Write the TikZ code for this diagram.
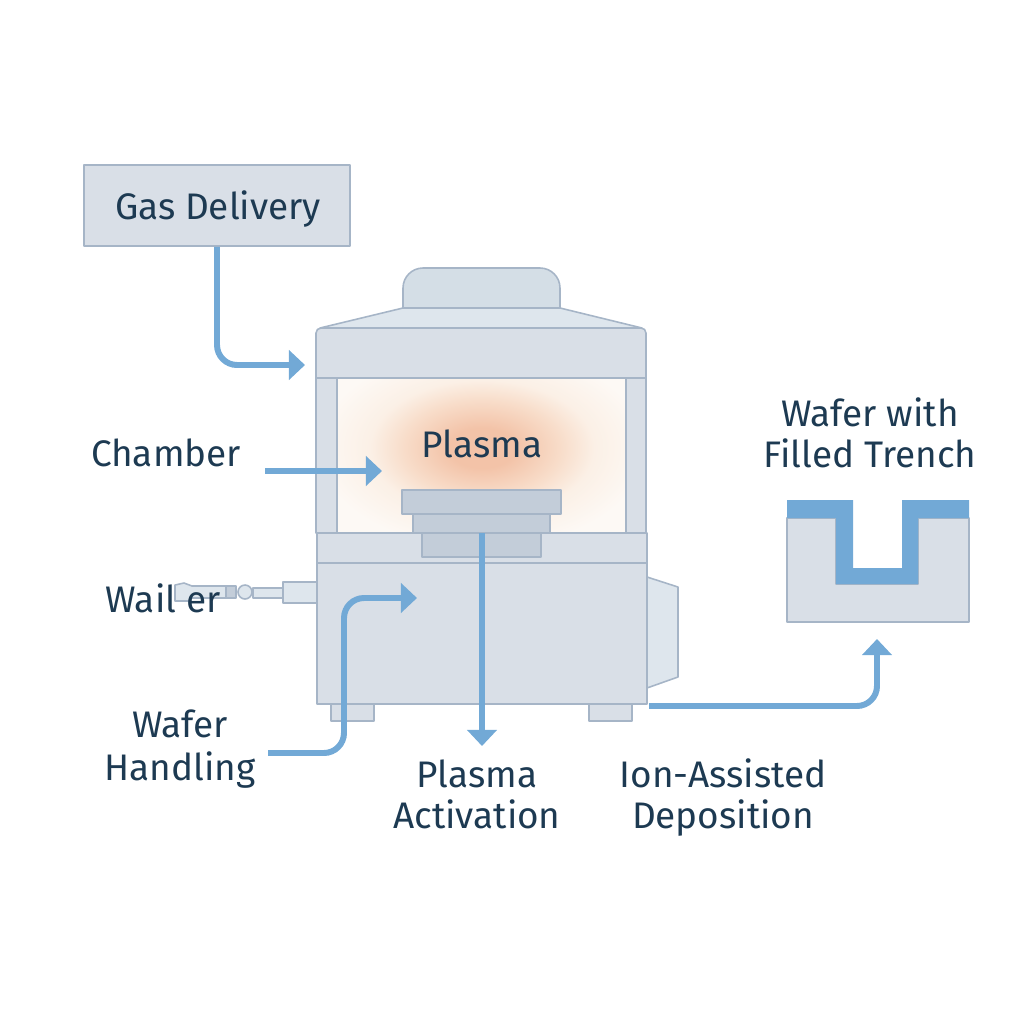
\documentclass[tikz,border=0pt]{standalone}
\usepackage{fontspec}
\setmainfont{Fira Sans}
\usetikzlibrary{arrows.meta}
\definecolor{bodygrey}{HTML}{D9DFE7}
\definecolor{hatgrey}{HTML}{D4DEE6}
\definecolor{roofgrey}{HTML}{DEE6ED}
\definecolor{linegrey}{HTML}{A6B5C7}
\definecolor{pedgrey}{HTML}{C3CDD9}
\definecolor{flowblue}{HTML}{72A9D6}
\definecolor{inkblue}{HTML}{1D3A52}
\definecolor{chambercream}{HTML}{FDF9F5}
\definecolor{glowcore}{HTML}{F3C3A8}
\definecolor{glowmid}{HTML}{F8DDCA}
\definecolor{glowrim}{HTML}{FBF0E6}
\pgfdeclareradialshading{plasmaglow}{\pgfpoint{0bp}{0bp}}{color(0bp)=(glowcore); color(5bp)=(glowcore); color(12bp)=(glowmid); color(17bp)=(glowrim); color(25bp)=(chambercream)}
\tikzset{
	part/.style={draw=linegrey,fill=bodygrey,line width=0.45pt,line join=round},
	pedestal/.style={part,fill=pedgrey},
	label/.style={text=inkblue,font=\fontsize{10.5}{11.4}\selectfont,align=center,inner sep=0pt,anchor=base},
	flow/.style={draw=flowblue,line width=1.7pt,rounded corners=0.2cm,-{Triangle[length=0.16cm,width=0.29cm]}},
}
\begin{document}
\begin{tikzpicture}[x=0.01cm,y=-0.01cm]
	\useasboundingbox (0,0) rectangle (1024,1024);

	% Machine top
	\draw[part,fill=hatgrey,rounded corners=0.2cm] (403,309) -- (403,268) -- (560,268) -- (560,309);
	\draw[part,fill=roofgrey] (403,308) -- (560,308) -- (642,328) -- (320,328) -- cycle;
	\draw[part,rounded corners=0.05cm] (316,378) -- (316,328) -- (646,328) -- (646,378);
	\draw[part] (316,378) rectangle (646,533);

	% Chamber
	\fill[chambercream] (337,378) rectangle (626,533);
	\begin{scope}
		\clip (337,379) rectangle (626,533);
		\path[shading=plasmaglow] (482,448) ellipse (165 and 100);
	\end{scope}
	\draw[draw=linegrey,line width=0.45pt] (337,533) -- (337,378) -- (626,378) -- (626,533);

	% Lower body
	\draw[part] (317,533) rectangle (647,563);
	\draw[part] (331,704) rectangle (374,721);
	\draw[part] (589,704) rectangle (632,721);
	\draw[part] (317,563) rectangle (647,704);
	\draw[part,fill=roofgrey] (647,577) -- (678,587) -- (678,677) -- (647,688) -- cycle;

	% Pedestal
	\draw[pedestal] (422,533) rectangle (541,557);
	\draw[pedestal] (413,514) rectangle (550,533);
	\draw[pedestal] (402,490) rectangle (561,514);

	% Handler
	\draw[part,fill=roofgrey] (283,582) rectangle (317,603);
	\draw[part,fill=roofgrey] (253,588) rectangle (283,598);
	\draw[part,fill=roofgrey] (175,585) -- (184,583) -- (192,586) -- (226,586) -- (226,598) -- (190,598) -- (190,601) -- (175,601) -- cycle;
	\draw[part,fill=pedgrey] (226,586) rectangle (236,598);
	\draw[part,fill=roofgrey] (245,592) circle (7);

	% Wafer
	\draw[part] (787,518) -- (836,518) -- (836,584) -- (918,584) -- (918,518) -- (969,518) -- (969,622) -- (787,622) -- cycle;
	\fill[flowblue] (787,500) -- (853,500) -- (853,568) -- (902,568) -- (902,500) -- (969,500) -- (969,518) -- (918,518) -- (918,584) -- (836,584) -- (836,518) -- (787,518) -- cycle;

	% Labels
	\node[part,minimum width=2.66cm,minimum height=0.81cm] (gas) at (217,205.5) {};
	\node[label] (gaslabel) at (218,219) {Gas Delivery};
	\node[label] (chamberlabel) at (166,466) {Chamber};
	\node[label] (plasmalabel) at (482,457) {Plasma};
	\node[label] (waller) at (163,612) {Wail er};
	\node[label] (handling) at (180,780) {Wafer\\[0.6pt]Handling};
	\node[label] (activation) at (477,828) {Plasma\\Activation};
	\node[label] (deposition) at (723,828) {Ion-Assisted\\Deposition};
	\node[label] (result) at (870,467) {Wafer with\\Filled Trench};

	% Flow ends
	\coordinate (gasin) at (305,365);
	\coordinate (chamberfrom) at (265,471);
	\coordinate (chamberto) at (382,471);
	\coordinate (handfrom) at (268,753);
	\coordinate (handmid) at (344,598);
	\coordinate (handto) at (417,598);
	\coordinate (pedfrom) at (482,533);
	\coordinate (pedto) at (482,746);
	\coordinate (depfrom) at (649,706);
	\coordinate (depto) at (877,639);

	% Flows
	\draw[flow] (gas.south) |- (gasin);
	\draw[flow] (chamberfrom) -- (chamberto);
	\draw[flow] (handfrom) -| (handmid) -- (handto);
	\draw[flow] (pedfrom) -- (pedto);
	\draw[flow] (depfrom) -| (depto);
\end{tikzpicture}
\end{document}
